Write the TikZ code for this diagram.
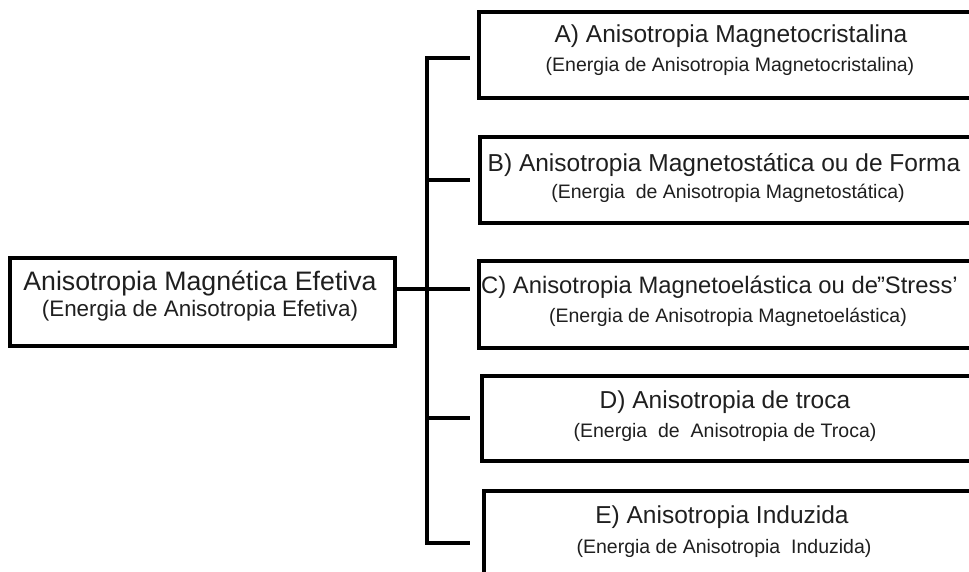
\documentclass[tikz,border=0pt]{standalone}
\usepackage{fontspec}
\setmainfont{Liberation Sans}
\begin{document}
\begin{tikzpicture}[x=1pt,y=-1pt,
  boxstyle/.style={draw=black, line width=4pt, rectangle, inner sep=0pt},
  conn/.style={draw=black, line width=4pt},
  bigtitle/.style={font=\fontsize{26.7}{30}\selectfont, inner sep=0pt, text=black!88},
  bigsub/.style={font=\fontsize{22.4}{26}\selectfont, inner sep=0pt, text=black!88},
  ttl/.style={font=\fontsize{24.5}{28}\selectfont, inner sep=0pt, text=black!88},
  sub/.style={font=\fontsize{19.5}{23}\selectfont, inner sep=0pt, text=black!88}
]
\useasboundingbox (0,0) rectangle (969,571);
\clip (0,0) rectangle (969,571);
\fill[white] (0,0) rectangle (969,571);

% boxes
\node[boxstyle, minimum width=385pt, minimum height=88pt] (L) at (202.5,302) {};
\node[boxstyle, minimum width=523pt, minimum height=86pt, anchor=north west] (bA) at (477,10) {};
\node[boxstyle, minimum width=523pt, minimum height=86pt, anchor=north west] (bB) at (478,135) {};
\node[boxstyle, minimum width=523pt, minimum height=87pt, anchor=north west] (bC) at (477,259) {};
\node[boxstyle, minimum width=523pt, minimum height=85pt, anchor=north west] (bD) at (480,374) {};
\node[boxstyle, minimum width=523pt, minimum height=95pt, anchor=north west] (bE) at (482,489) {};

% texts
\node[bigtitle] (tL) at (200,283) {Anisotropia Magnética Efetiva};
\node[bigsub] (sL) at (200,311) {(Energia de Anisotropia Efetiva)};
\node[ttl] (tA) at (731,36) {A) Anisotropia Magnetocristalina};
\node[sub] (sA) at (730,66) {(Energia de Anisotropia Magnetocristalina)};
\node[ttl] (tB) at (724,165) {B) Anisotropia Magnetostática ou de Forma};
\node[sub] (sB) at (728,193) {(Energia\ \ de Anisotropia Magnetostática)};
\node[ttl, font=\fontsize{23.8}{28}\selectfont, anchor=west] (tC) at (481,287) {C) Anisotropia Magnetoelástica ou de\kern-1pt''Stress'};
\node[sub] (sC) at (728,317) {(Energia de Anisotropia Magnetoelástica)};
\node[ttl] (tD) at (725,402) {D) Anisotropia de troca};
\node[sub] (sD) at (725,432) {(Energia\ \ de\ \ Anisotropia de Troca)};
\node[ttl] (tE) at (722,517) {E) Anisotropia Induzida};
\node[sub] (sE) at (724,548) {(Energia de Anisotropia\ \ Induzida)};

% connector coordinates
\coordinate (tt) at (427,58);
\coordinate (tb) at (427,543);
\coordinate (jB) at (427,180);
\coordinate (jC) at (427,289);
\coordinate (jD) at (427,418);

% trunk and stubs
\draw[conn, line join=miter] (bA.west |- tt) ++(-7,0) -- (tt) -- (tb) -- ++(43,0);
\draw[conn] (jB) -- ++(43,0);
\draw[conn] (L.east |- jC) -- ++(73,0);
\draw[conn] (jD) -- ++(43,0);
\end{tikzpicture}
\end{document}
